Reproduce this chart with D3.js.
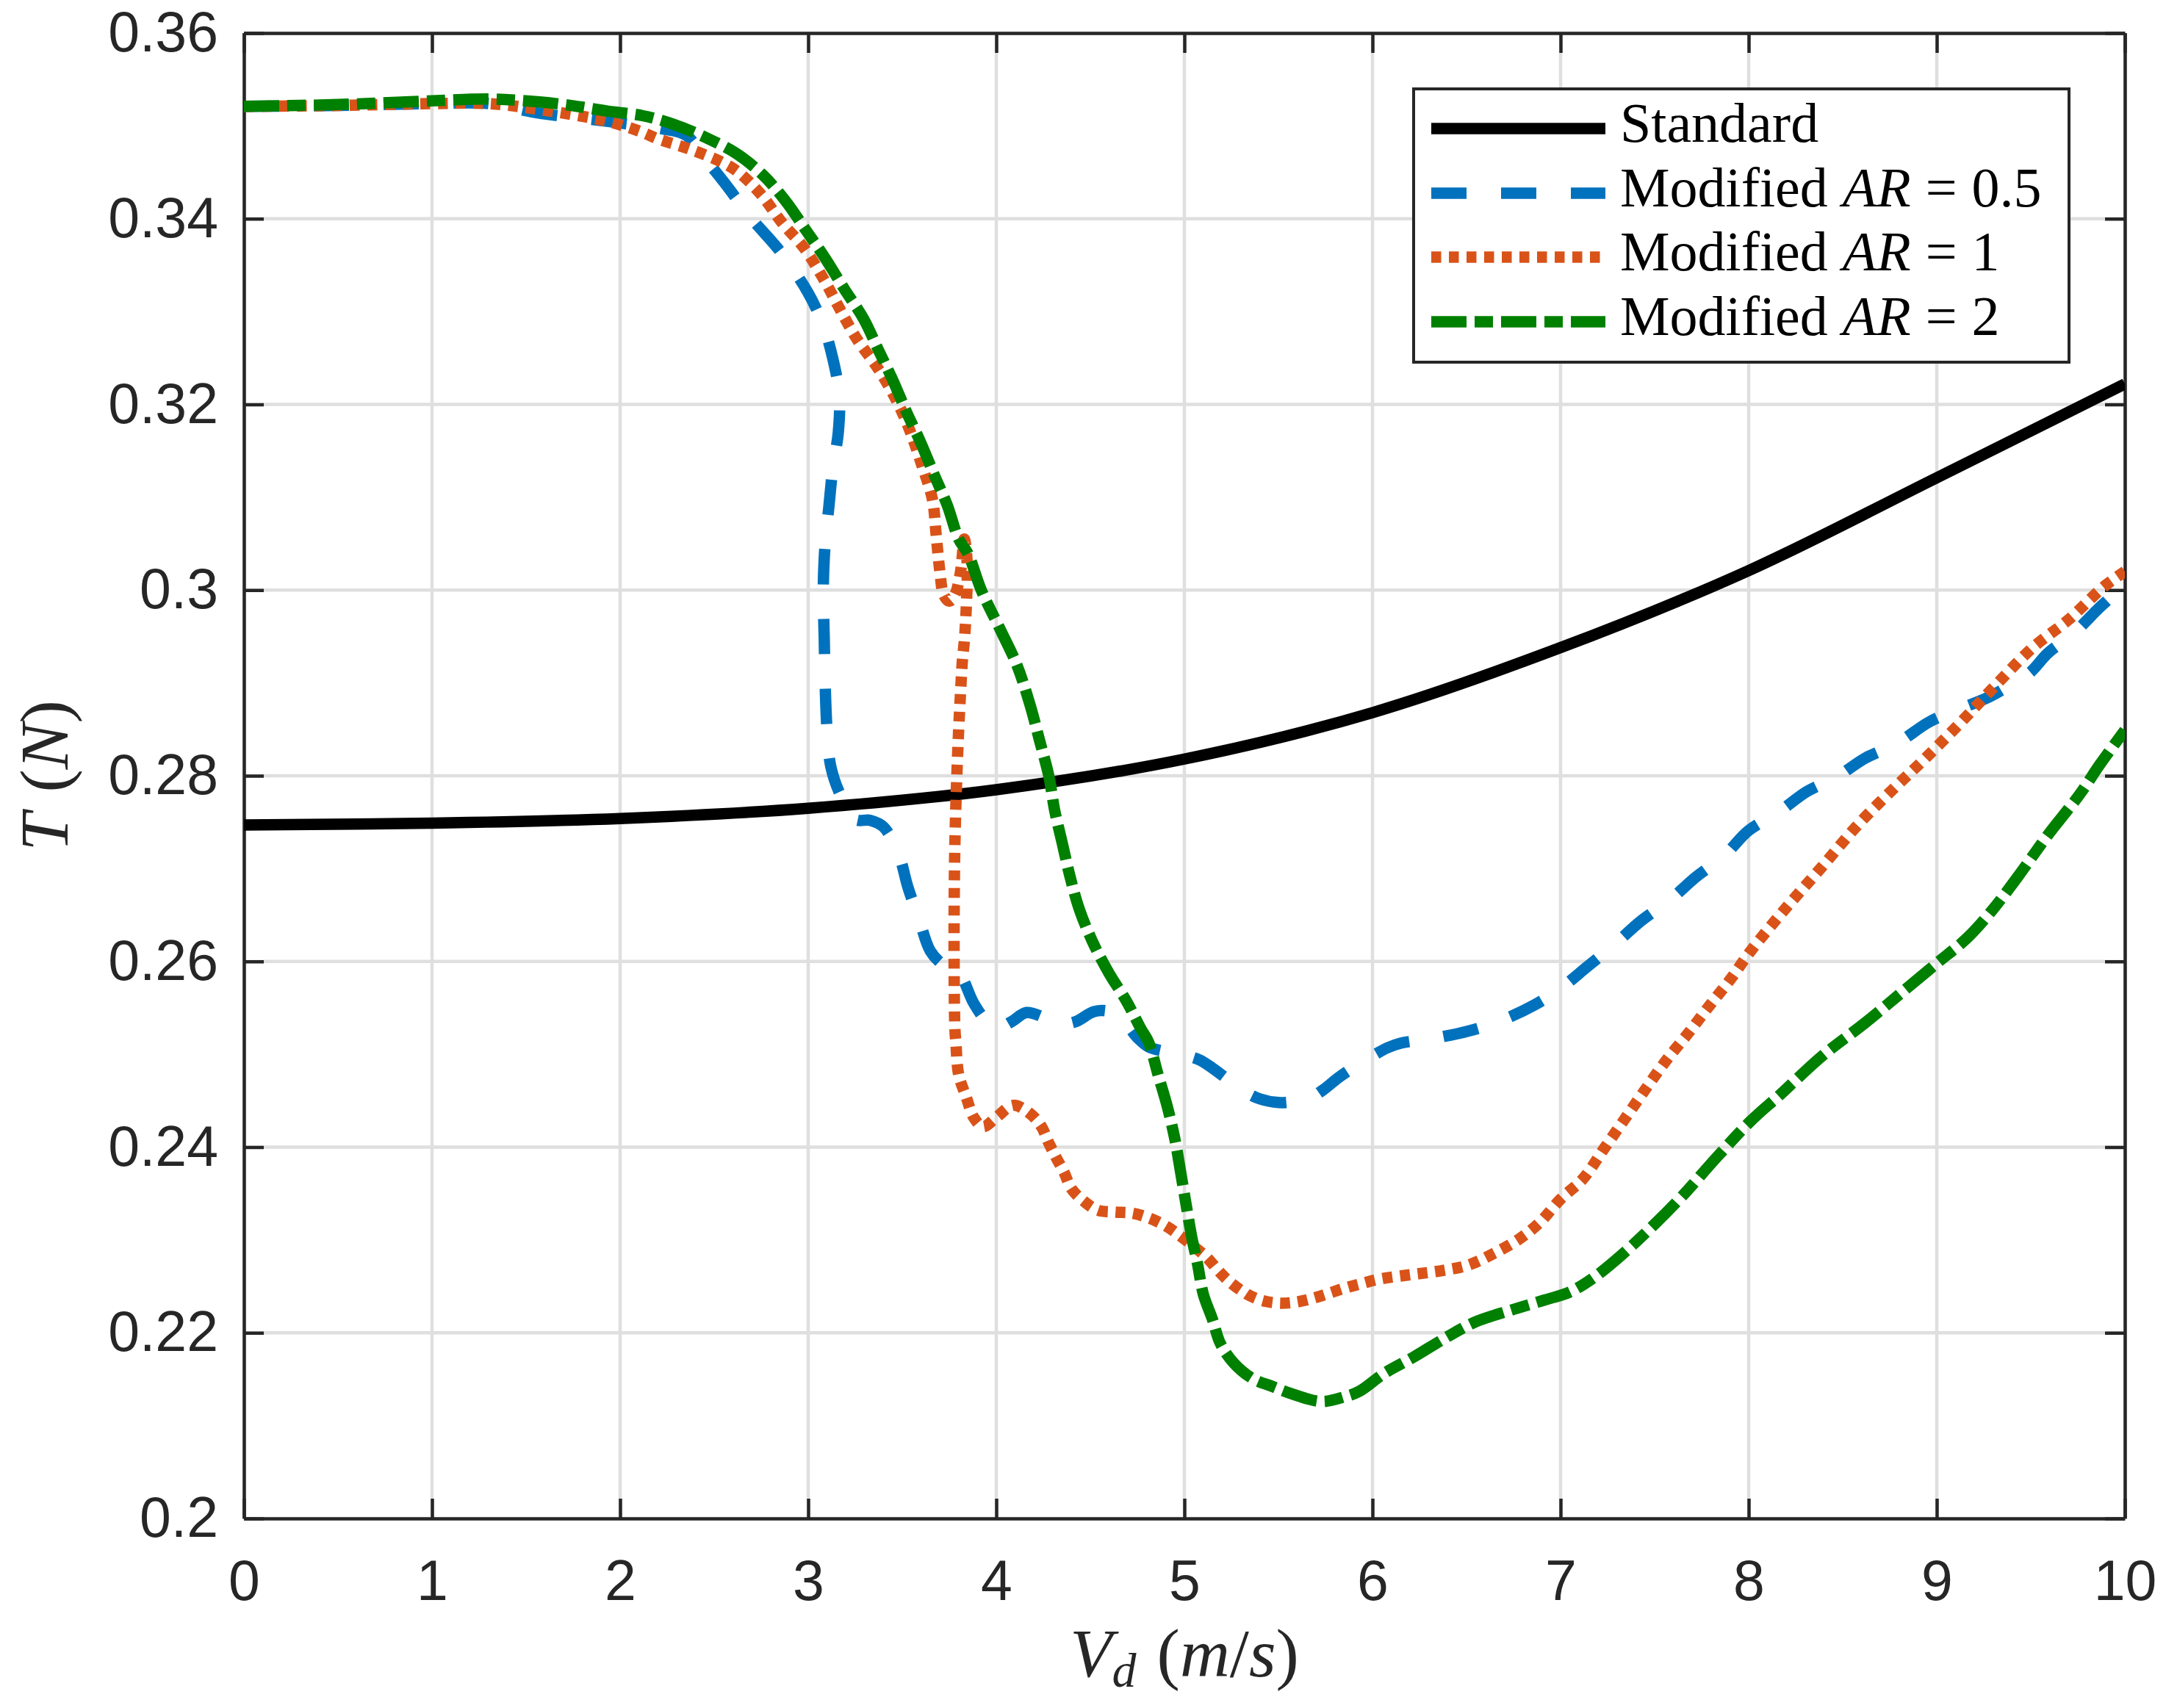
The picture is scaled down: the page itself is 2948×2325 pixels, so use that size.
<!DOCTYPE html>
<html>
<head>
<meta charset="utf-8">
<script src="https://cdn.jsdelivr.net/npm/d3@7"></script>
<style>
  html, body { margin: 0; padding: 0; background: #ffffff; }
  svg { display: block; }
</style>
</head>
<body>
<script>
// ---------------- DATA ----------------
const xTicks = [0, 1, 2, 3, 4, 5, 6, 7, 8, 9, 10];
const xTickLabels = ["0", "1", "2", "3", "4", "5", "6", "7", "8", "9", "10"];
const yTicks = [0.2, 0.22, 0.24, 0.26, 0.28, 0.3, 0.32, 0.34, 0.36];
const yTickLabels = ["0.2", "0.22", "0.24", "0.26", "0.28", "0.3", "0.32", "0.34", "0.36"];

const seriesNames = ["Standard", "Modified AR = 0.5", "Modified AR = 1", "Modified AR = 2"];

const standardV = [0, 1, 2, 3, 4, 5, 6, 7, 8, 9, 10];
const standardT = [0.2747, 0.2749, 0.2754, 0.2765, 0.2785, 0.2818, 0.2868, 0.2938, 0.3021, 0.3121, 0.3222];

const ar05V = [0, 0.5, 1.0, 1.3, 1.56, 1.93, 2.12, 2.22, 2.35, 2.45, 2.55, 2.70, 2.85, 3.0, 3.08, 3.13, 3.165,
  3.16, 3.13, 3.11, 3.09, 3.08, 3.085, 3.09, 3.10, 3.12, 3.17, 3.25, 3.33, 3.40, 3.48, 3.53, 3.59, 3.65,
  3.72, 3.80, 3.88, 3.95, 4.0, 4.08, 4.16, 4.25, 4.33, 4.42, 4.52, 4.60, 4.68, 4.75, 4.81, 4.9, 5.0,
  5.08, 5.15, 5.23, 5.31, 5.40, 5.5, 5.58, 5.66, 5.74, 5.82, 5.9, 5.99, 6.08, 6.15, 6.32, 6.51, 6.68,
  6.86, 7.0, 7.14, 7.29, 7.43, 7.58, 7.72, 7.87, 8.0, 8.16, 8.31, 8.47, 8.62, 8.79, 8.96, 9.11, 9.28,
  9.40, 9.5, 9.59, 9.72, 9.87, 10];
const ar05T = [0.3521, 0.3522, 0.3524, 0.3524, 0.3514, 0.3505, 0.3500, 0.3497, 0.3490, 0.3465, 0.3440, 0.3400, 0.3365, 0.3320, 0.3285, 0.3250, 0.3210,
  0.3170, 0.3130, 0.3090, 0.3050, 0.3000, 0.2950, 0.2900, 0.2850, 0.2810, 0.2780, 0.2753, 0.2752, 0.2745, 0.2716, 0.2680, 0.2645, 0.2611,
  0.2596, 0.2588, 0.2555, 0.2535, 0.2528, 0.2535, 0.2545, 0.2540, 0.2533, 0.2535, 0.2546, 0.2546, 0.2535, 0.2518, 0.2508, 0.2503, 0.2499,
  0.2494, 0.2485, 0.2473, 0.2461, 0.2452, 0.2448, 0.2449, 0.2452, 0.2462, 0.2475, 0.2486, 0.2497, 0.2507, 0.2512, 0.2517, 0.2525, 0.2536,
  0.2553, 0.2571, 0.2594, 0.2619, 0.2644, 0.2666, 0.2691, 0.2714, 0.2741, 0.2761, 0.2783, 0.2799, 0.2819, 0.2835, 0.2858, 0.2871, 0.2885,
  0.2899, 0.2912, 0.2932, 0.2952, 0.2982, 0.3006];

const ar1V = [0, 0.5, 1.0, 1.3, 1.56, 1.93, 2.12, 2.20, 2.37, 2.54, 2.63, 2.75, 2.86, 2.98, 3.085, 3.17, 3.26, 3.37,
  3.47, 3.54, 3.60, 3.66, 3.68, 3.70, 3.72, 3.75, 3.78, 3.81, 3.83, 3.845, 3.84, 3.83, 3.82, 3.81, 3.80, 3.79,
  3.78, 3.776, 3.776, 3.78, 3.785, 3.80, 3.84, 3.88, 3.93, 4.0, 4.09, 4.18, 4.24, 4.28, 4.32, 4.36, 4.40, 4.47,
  4.54, 4.63, 4.72, 4.82, 4.91, 4.98, 5.05, 5.12, 5.18, 5.24, 5.33, 5.41, 5.50, 5.59, 5.68, 5.76, 5.85, 5.94,
  6.04, 6.22, 6.37, 6.51, 6.64, 6.78, 6.89, 7.0, 7.12, 7.23, 7.34, 7.45, 7.56, 7.68, 7.79, 7.90, 8.01, 8.20,
  8.39, 8.58, 8.77, 8.94, 9.13, 9.32, 9.51, 9.70, 9.89, 10];
const ar1T = [0.3521, 0.3522, 0.3524, 0.3524, 0.3518, 0.3505, 0.3493, 0.3486, 0.3475, 0.3461, 0.3450, 0.3426, 0.3396, 0.3368, 0.3334, 0.3302, 0.3270, 0.3239,
  0.3204, 0.3172, 0.3137, 0.3098, 0.3060, 0.3020, 0.2995, 0.2988, 0.2995, 0.3020, 0.3055, 0.3030, 0.2980, 0.2945, 0.2925, 0.2890, 0.2850, 0.2799,
  0.2728, 0.2658, 0.2587, 0.2527, 0.2513, 0.2478, 0.2454, 0.2432, 0.2422, 0.2432, 0.2445, 0.2436, 0.2422, 0.2404, 0.2388, 0.2373, 0.2355, 0.2341,
  0.2332, 0.2330, 0.2329, 0.2323, 0.2314, 0.2304, 0.2293, 0.2281, 0.2267, 0.2255, 0.2242, 0.2235, 0.2232, 0.2233, 0.2237, 0.2242, 0.2248, 0.2253,
  0.2258, 0.2263, 0.2267, 0.2273, 0.2285, 0.2301, 0.2319, 0.2344, 0.2366, 0.2398, 0.2430, 0.2462, 0.2493, 0.2523, 0.2552, 0.2580, 0.2611, 0.2658,
  0.2702, 0.2747, 0.2786, 0.2819, 0.2858, 0.2899, 0.2938, 0.2968, 0.3004, 0.3020];

const ar2V = [0, 0.5, 1.0, 1.3, 1.56, 1.74, 1.93, 2.12, 2.28, 2.46, 2.62, 2.76, 2.88, 2.99, 3.085, 3.19, 3.295,
  3.37, 3.45, 3.52, 3.60, 3.67, 3.74, 3.80, 3.85, 3.92, 4.02, 4.11, 4.18, 4.23, 4.28, 4.31, 4.35, 4.39, 4.44,
  4.51, 4.60, 4.69, 4.77, 4.81, 4.86, 4.91, 4.95, 4.98, 5.01, 5.04, 5.07, 5.10, 5.15, 5.19, 5.26, 5.36, 5.47,
  5.56, 5.73, 5.85, 5.93, 6.06, 6.22, 6.40, 6.55, 6.73, 6.91, 7.05, 7.18, 7.32, 7.50, 7.65, 7.83, 8.01, 8.17,
  8.39, 8.62, 8.84, 9.0, 9.16, 9.29, 9.43, 9.59, 9.76, 9.87, 10];
const ar2T = [0.3521, 0.3523, 0.3527, 0.3529, 0.3526, 0.3522, 0.3516, 0.3511, 0.3502, 0.3487, 0.3470, 0.3447, 0.3419, 0.3387, 0.3359, 0.3325, 0.3292,
  0.3260, 0.3226, 0.3193, 0.3158, 0.3124, 0.3091, 0.3055, 0.3039, 0.3000, 0.2958, 0.2919, 0.2876, 0.2838, 0.2799, 0.2763, 0.2728, 0.2693, 0.2657,
  0.2622, 0.2587, 0.2558, 0.2527, 0.2513, 0.2478, 0.2443, 0.2408, 0.2373, 0.2337, 0.2302, 0.2274, 0.2242, 0.2214, 0.2189, 0.2168, 0.2151, 0.2142,
  0.2135, 0.2126, 0.2131, 0.2137, 0.2156, 0.2174, 0.2196, 0.2212, 0.2224, 0.2235, 0.2244, 0.2260, 0.2283, 0.2317, 0.2348, 0.2389, 0.2428, 0.2457,
  0.2498, 0.2534, 0.2571, 0.2598, 0.2625, 0.2654, 0.2691, 0.2736, 0.2780, 0.2813, 0.2849];

// ---------------- LAYOUT / STYLE ----------------
const W = 2948, H = 2325;
const plot = { left: 332, right: 2892, top: 45, bottom: 2067 };
const axisColor = "#262626";
const gridColor = "#dfdfdf";
const lw = 15.5;

const seriesStyles = [
  { color: "#000000", dash: null },
  { color: "#0072BD", dash: "48,47" },
  { color: "#D95319", dash: "13.5,10.5" },
  { color: "#008000", dash: "48,11,25,11" }
];

const svg = d3.select("body").append("svg")
  .attr("width", W).attr("height", H)
  .attr("viewBox", `0 0 ${W} ${H}`);

svg.append("rect").attr("width", W).attr("height", H).attr("fill", "#fff");

const x = d3.scaleLinear().domain([0, 10]).range([plot.left, plot.right]);
const y = d3.scaleLinear().domain([0.2, 0.36]).range([plot.bottom, plot.top]);

// grid
const grid = svg.append("g").attr("class", "grid");
grid.selectAll("line.gx").data(xTicks).join("line")
  .attr("x1", d => x(d)).attr("x2", d => x(d))
  .attr("y1", plot.top).attr("y2", plot.bottom)
  .attr("stroke", gridColor).attr("stroke-width", 4.5);
grid.selectAll("line.gy").data(yTicks).join("line")
  .attr("y1", d => y(d)).attr("y2", d => y(d))
  .attr("x1", plot.left).attr("x2", plot.right)
  .attr("stroke", gridColor).attr("stroke-width", 4.5);

// axes
const tickFont = "'Liberation Sans', Arial, Helvetica, sans-serif";
const tickSize = 27;

function styleAxis(g) {
  g.select(".domain").attr("stroke", axisColor).attr("stroke-width", 4.5);
  g.selectAll(".tick line").attr("stroke", axisColor).attr("stroke-width", 4.5);
  g.selectAll(".tick text").attr("fill", axisColor)
    .style("font-family", tickFont).style("font-size", "77px");
}

const gBottom = svg.append("g").attr("transform", `translate(0,${plot.bottom})`)
  .call(d3.axisBottom(x).tickValues(xTicks).tickFormat((d, i) => xTickLabels[i])
    .tickSizeInner(-tickSize).tickSizeOuter(0).tickPadding(56));
styleAxis(gBottom);

const gTop = svg.append("g").attr("transform", `translate(0,${plot.top})`)
  .call(d3.axisTop(x).tickValues(xTicks).tickFormat("")
    .tickSizeInner(-tickSize).tickSizeOuter(0));
styleAxis(gTop);

const gLeft = svg.append("g").attr("transform", `translate(${plot.left},0)`)
  .call(d3.axisLeft(y).tickValues(yTicks).tickFormat((d, i) => yTickLabels[i])
    .tickSizeInner(-tickSize).tickSizeOuter(0).tickPadding(35));
styleAxis(gLeft);

const gRight = svg.append("g").attr("transform", `translate(${plot.right},0)`)
  .call(d3.axisRight(y).tickValues(yTicks).tickFormat("")
    .tickSizeInner(-tickSize).tickSizeOuter(0));
styleAxis(gRight);

// clip
svg.append("clipPath").attr("id", "clip").append("rect")
  .attr("x", plot.left).attr("y", plot.top)
  .attr("width", plot.right - plot.left).attr("height", plot.bottom - plot.top);

const line = d3.line().x(d => x(d[0])).y(d => y(d[1])).curve(d3.curveCatmullRom.alpha(0.5));

const seriesData = [
  d3.zip(standardV, standardT),
  d3.zip(ar05V, ar05T),
  d3.zip(ar1V, ar1T),
  d3.zip(ar2V, ar2T)
];

const gLines = svg.append("g").attr("clip-path", "url(#clip)");
seriesData.forEach((data, i) => {
  const st = seriesStyles[i];
  const p = gLines.append("path").datum(data)
    .attr("d", line)
    .attr("fill", "none")
    .attr("stroke", st.color)
    .attr("stroke-width", lw)
    .attr("stroke-linejoin", "round")
    .attr("stroke-linecap", "butt");
  if (st.dash) p.attr("stroke-dasharray", st.dash);
});

// axis labels
const serif = "'Liberation Serif', 'DejaVu Serif', 'Times New Roman', serif";
const xl = svg.append("text")
  .attr("x", (plot.left + plot.right) / 2).attr("y", 2282)
  .attr("text-anchor", "middle")
  .attr("fill", axisColor)
  .style("font-family", serif).style("font-size", "94px");
xl.append("tspan").attr("font-style", "italic").text("V");
xl.append("tspan").attr("font-style", "italic").attr("font-size", "66px").attr("dy", 14).text("d");
xl.append("tspan").attr("dy", -14).attr("dx", 28).text("(");
xl.append("tspan").attr("font-style", "italic").text("m");
xl.append("tspan").text("/");
xl.append("tspan").attr("font-style", "italic").text("s");
xl.append("tspan").text(")");

const yl = svg.append("text")
  .attr("transform", `translate(92,${(plot.top + plot.bottom) / 2}) rotate(-90)`)
  .attr("text-anchor", "middle")
  .attr("fill", axisColor)
  .style("font-family", serif).style("font-size", "94px");
yl.append("tspan").attr("font-style", "italic").text("T");
yl.append("tspan").attr("dx", 28).text("(");
yl.append("tspan").attr("font-style", "italic").text("N");
yl.append("tspan").text(")");

// legend
const leg = { x: 1924, y: 121, w: 892, h: 372 };
const gLeg = svg.append("g");
gLeg.append("rect").attr("x", leg.x).attr("y", leg.y).attr("width", leg.w).attr("height", leg.h)
  .attr("fill", "#fff").attr("stroke", axisColor).attr("stroke-width", 4);

const rowY = [175, 263, 350, 438];
const legendValues = [null, "0.5", "1", "2"];
seriesStyles.forEach((st, i) => {
  const l = gLeg.append("line")
    .attr("x1", 1948).attr("x2", 2185)
    .attr("y1", rowY[i]).attr("y2", rowY[i])
    .attr("stroke", st.color).attr("stroke-width", lw)
    .attr("stroke-linecap", "butt");
  if (st.dash) l.attr("stroke-dasharray", st.dash);
  const t = gLeg.append("text")
    .attr("x", 2205).attr("y", rowY[i] + 18)
    .attr("fill", "#000")
    .style("font-family", serif).style("font-size", "76px");
  if (i === 0) {
    t.text(seriesNames[0]);
  } else {
    t.append("tspan").text("Modified");
    t.append("tspan").attr("dx", 20).attr("font-style", "italic").text("AR");
    t.append("tspan").attr("dx", 20).text("=");
    t.append("tspan").attr("dx", 20).text(legendValues[i]);
  }
});
</script>
</body>
</html>
